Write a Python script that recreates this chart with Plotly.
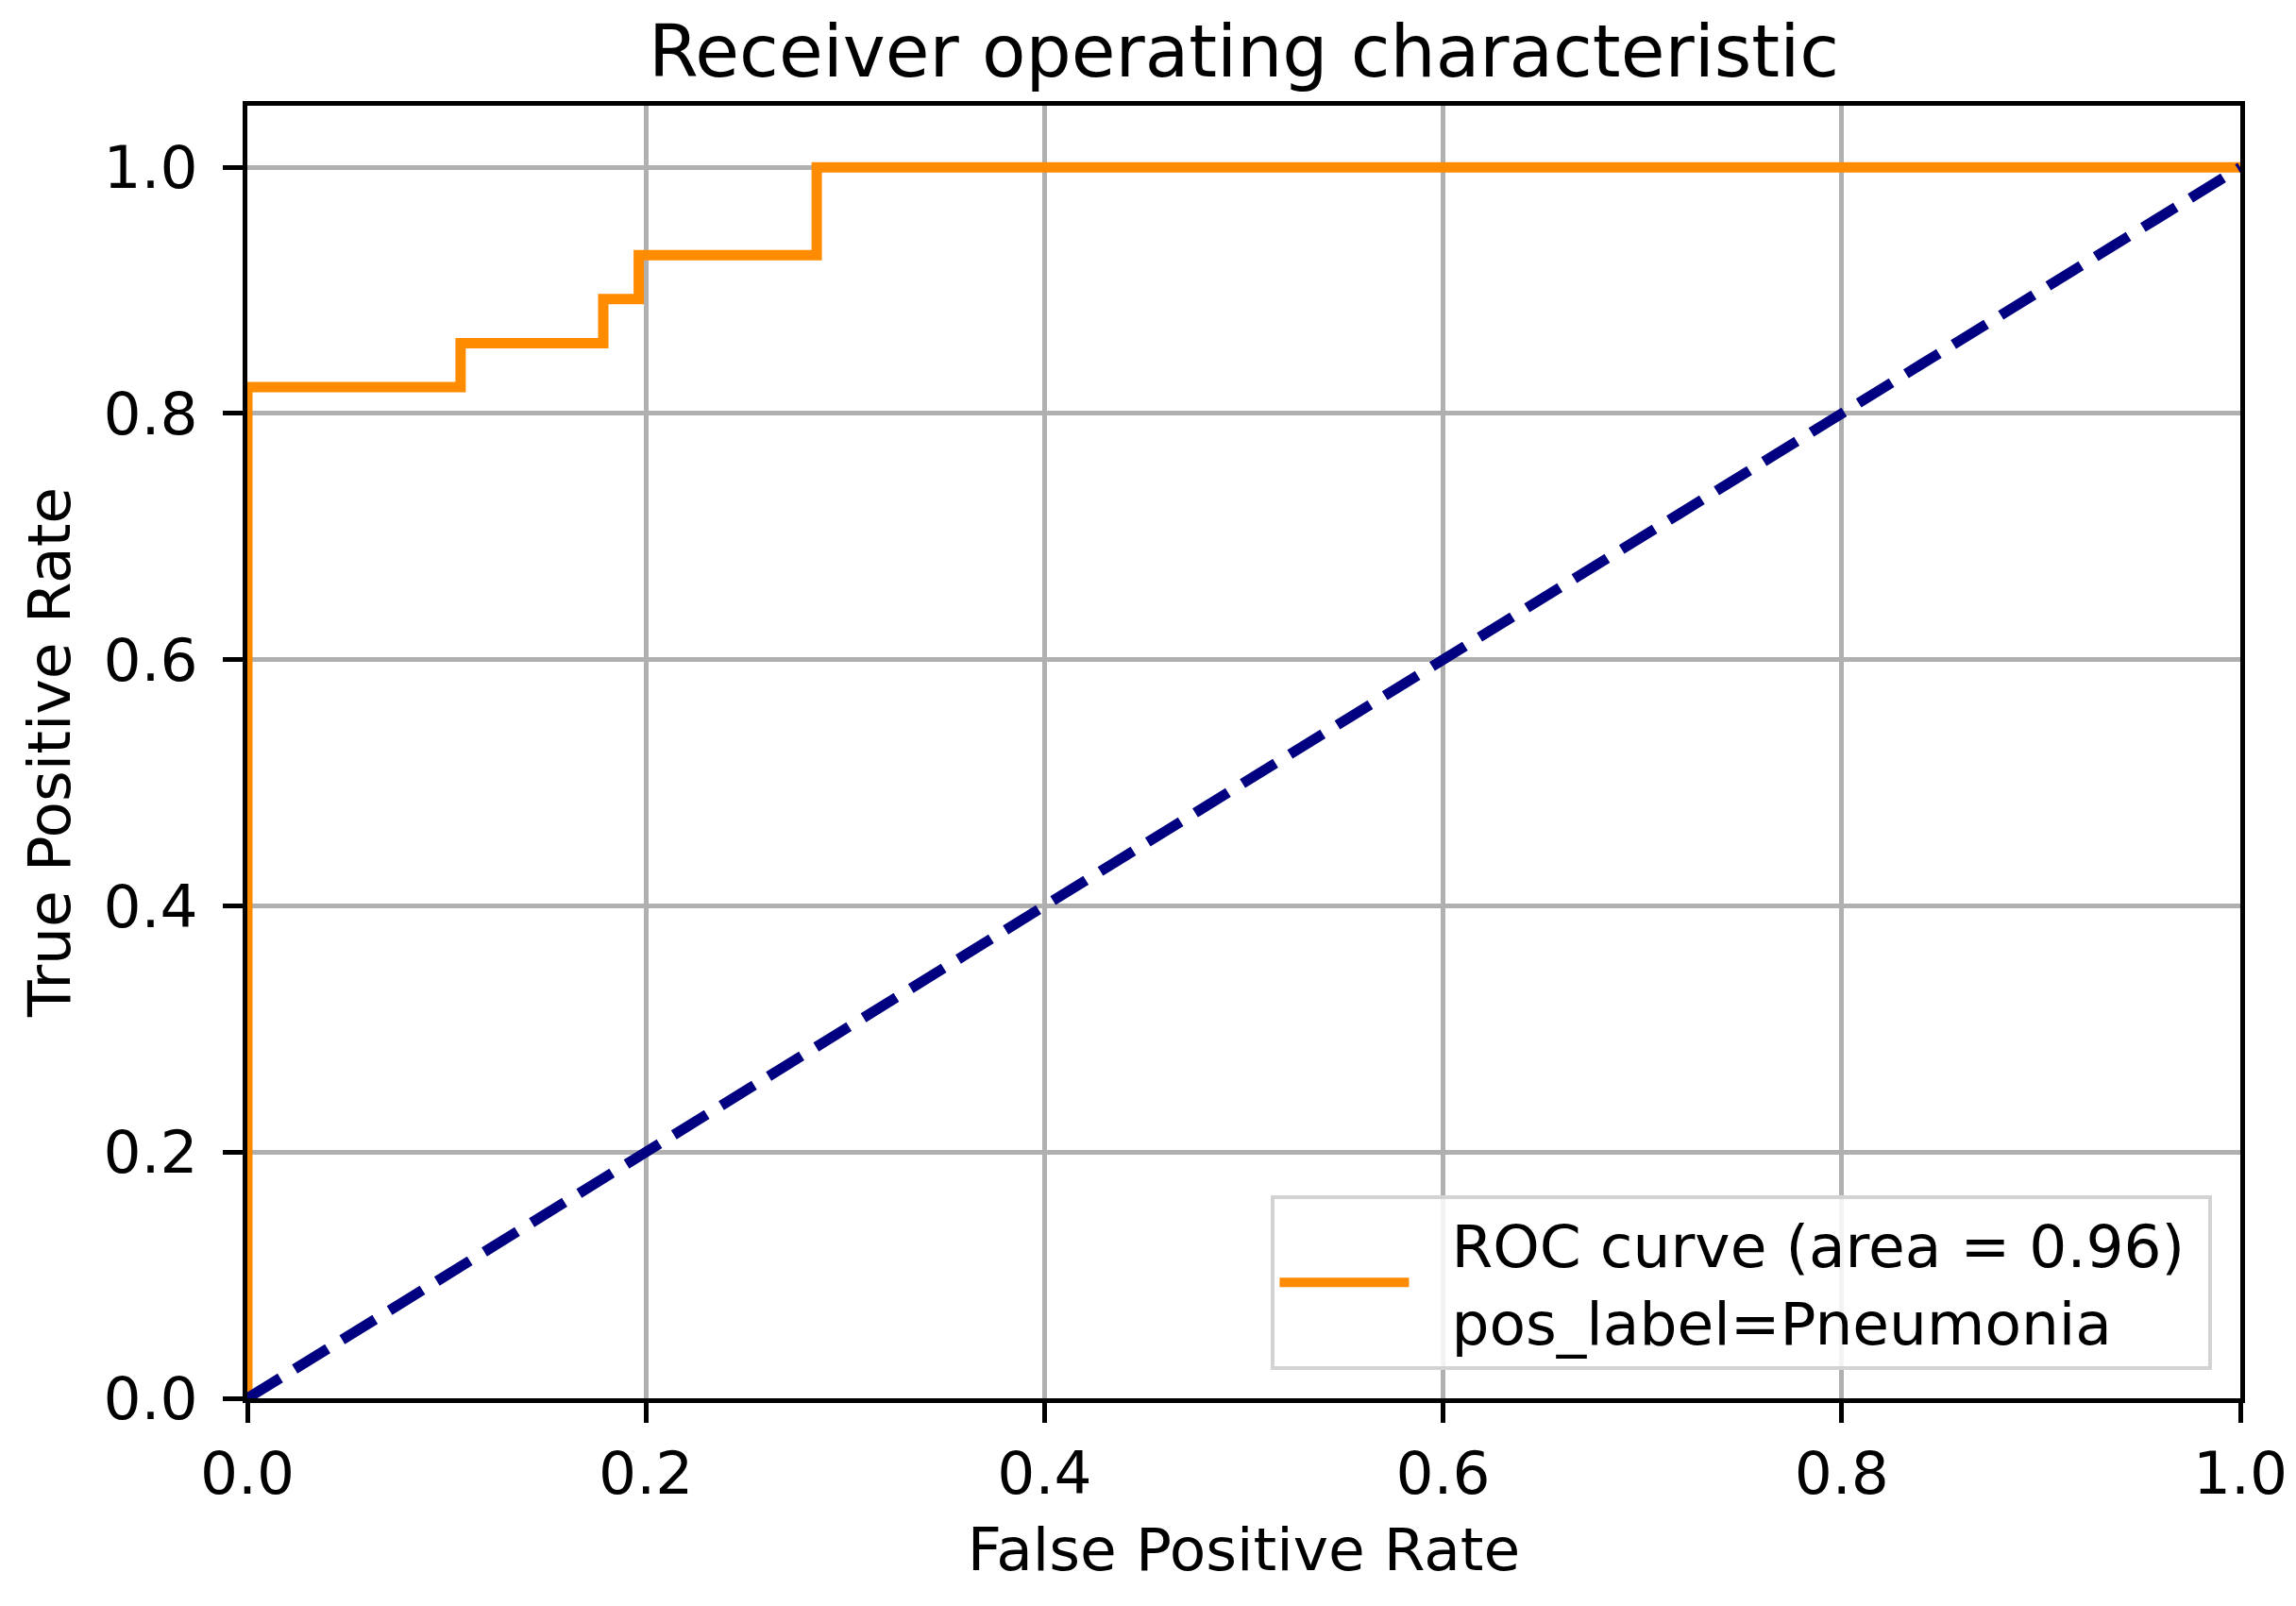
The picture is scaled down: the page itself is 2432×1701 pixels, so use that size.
import plotly.graph_objects as go

# ROC curve data
fpr = [0.0, 0.0, 0.107, 0.107, 0.1786, 0.1786, 0.1964, 0.1964, 0.2857, 0.2857, 1.0]
tpr = [0.0, 0.8214, 0.8214, 0.8571, 0.8571, 0.8929, 0.8929, 0.9286, 0.9286, 1.0, 1.0]
chance_x = [0.0, 1.0]
chance_y = [0.0, 1.0]
roc_auc = 0.96
tick_vals = [0.0, 0.2, 0.4, 0.6, 0.8, 1.0]

FONT = "DejaVu Sans"
FS = 63
NB = "\u00a0"

fig = go.Figure()
fig.add_trace(go.Scatter(
    x=fpr, y=tpr, mode="lines",
    line=dict(color="darkorange", width=11),
    name=f"{NB*2}ROC curve (area = {roc_auc:.2f}){NB}<br>{NB*2}pos_label=Pneumonia",
))
fig.add_trace(go.Scatter(
    x=chance_x, y=chance_y, mode="lines",
    line=dict(color="navy", width=11, dash="41px,18px"),
    showlegend=False,
))

axis_common = dict(
    showline=True, linecolor="black", linewidth=4.5, mirror=True,
    ticks="outside", ticklen=21, tickwidth=4.5, tickcolor="black",
    showgrid=True, gridcolor="#b0b0b0", gridwidth=4.5,
    zeroline=False,
    tickvals=tick_vals, tickformat=".1f",
    tickfont=dict(family=FONT, size=FS, color="black"),
)

fig.update_layout(
    width=2432, height=1701,
    paper_bgcolor="white", plot_bgcolor="white",
    margin=dict(l=254, r=67, t=104, b=228),
    title=dict(text="Receiver operating characteristic",
               font=dict(family=FONT, size=76, color="black"),
               xref="paper", x=0.5, xanchor="center",
               yref="container", y=1 - 46 / 1701, yanchor="middle"),
    xaxis=dict(range=[0, 1],
               title=dict(text="False Positive Rate", font=dict(family=FONT, size=FS, color="black"), standoff=24),
               ticklabelstandoff=0,
               **axis_common),
    yaxis=dict(range=[0, 1.05],
               title=dict(text="True Positive Rate", font=dict(family=FONT, size=FS, color="black"), standoff=16),
               ticklabelstandoff=14,
               **axis_common),
    legend=dict(
        x=0.986, y=0.022, xanchor="right", yanchor="bottom",
        bgcolor="rgba(255,255,255,0.85)", bordercolor="#d3d3d3", borderwidth=4,
        font=dict(family=FONT, size=FS, color="black"),
        itemwidth=137,
    ),
)

fig.write_html("out.html")
